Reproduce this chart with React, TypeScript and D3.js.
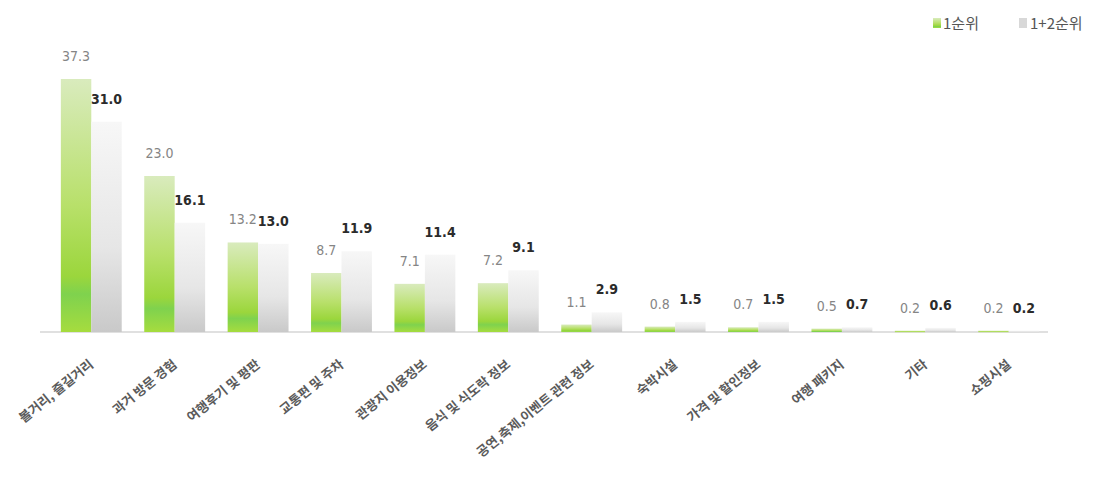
import * as d3 from "d3";

const categories = [
  "볼거리, 즐길거리",
  "과거 방문 경험",
  "여행후기 및 평판",
  "교통편 및 주차",
  "관광지 이용정보",
  "음식 및 식도락 정보",
  "공연,축제,이벤트 관련 정보",
  "숙박시설",
  "가격 및 할인정보",
  "여행 패키지",
  "기타",
  "쇼핑시설",
];
const first = [37.3, 23.0, 13.2, 8.7, 7.1, 7.2, 1.1, 0.8, 0.7, 0.5, 0.2, 0.2];
const firstSecond = [31.0, 16.1, 13.0, 11.9, 11.4, 9.1, 2.9, 1.5, 1.5, 0.7, 0.6, 0.2];
const seriesNames = ["1순위", "1+2순위"];

const W = 1101;
const H = 478;
const baseY = 332;

export default function App() {
  const x = d3.scaleBand<string>().domain(categories).range([50, 1050]).paddingInner(0.27).paddingOuter(0.13);
  const inner = d3.scaleBand<string>().domain(seriesNames).range([0, x.bandwidth()]);
  const y = d3.scaleLinear().domain([0, 37.3]).range([baseY, 79]);
  const font = "'Malgun Gothic', 'Noto Sans CJK KR', sans-serif";
  const numFont = "'DejaVu Sans Condensed', 'Liberation Sans Narrow', 'Noto Sans', sans-serif";

  return (
    <svg width={W} height={H} style={{ position: "absolute", left: 0, top: 0, background: "#fff" }}>
      <defs>
        <linearGradient id="gGreen" x1="0" y1="0" x2="0" y2="1">
          <stop offset="0" stopColor="#d9ebbd" />
          <stop offset="0.5" stopColor="#b8e06a" />
          <stop offset="0.78" stopColor="#9bd63c" />
          <stop offset="0.85" stopColor="#7fd24e" />
          <stop offset="1" stopColor="#a6dc3e" />
        </linearGradient>
        <linearGradient id="gGray" x1="0" y1="0" x2="0" y2="1">
          <stop offset="0" stopColor="#f7f7f7" />
          <stop offset="0.6" stopColor="#e6e6e6" />
          <stop offset="1" stopColor="#c9c9c9" />
        </linearGradient>
      </defs>

      <line x1={40} x2={1048} y1={baseY} y2={baseY} stroke="#d6d6d6" strokeWidth={1.5} />

      {categories.map((c, i) => {
        const gx = x(c)!;
        const vals = [first[i], firstSecond[i]];
        return (
          <g key={c}>
            {vals.map((v, j) => {
              const bx = gx + inner(seriesNames[j])!;
              const top = y(v);
              return (
                <g key={j}>
                  <rect
                    x={bx}
                    y={top}
                    width={inner.bandwidth()}
                    height={Math.max(baseY - top, 1.5)}
                    fill={j === 0 ? "url(#gGreen)" : "url(#gGray)"}
                  />
                  <text
                    x={bx + inner.bandwidth() / 2}
                    y={top - 18}
                    textAnchor="middle"
                    fontFamily={numFont}
                    fontSize={14}
                    fontWeight={j === 0 ? 400 : 700}
                    fill={j === 0 ? "#858585" : "#2b2b2b"}
                  >
                    {v.toFixed(1)}
                  </text>
                </g>
              );
            })}
            <text
              transform={`translate(${gx + x.bandwidth() / 2 + 3},${baseY + 34}) rotate(-39)`}
              textAnchor="end"
              fontFamily={font}
              fontSize={13}
              fontWeight={700}
              fill="#5a5a5a"
            >
              {c}
            </text>
          </g>
        );
      })}

      {/* Legend */}
      <g fontFamily={font} fontSize={15} fill="#555">
        <rect x={933} y={18} width={8} height={10} fill="url(#gGreen)" />
        <text x={943} y={29}>{seriesNames[0]}</text>
        <rect x={1019} y={18} width={8} height={10} fill="#d8d8d8" />
        <text x={1030} y={29}>{seriesNames[1]}</text>
      </g>
    </svg>
  );
}
